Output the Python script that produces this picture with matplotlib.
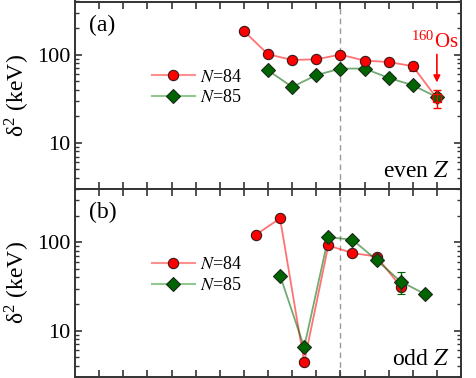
import matplotlib
matplotlib.use("Agg")
import matplotlib.pyplot as plt
from matplotlib.ticker import LogLocator, FixedLocator, NullFormatter, FuncFormatter

plt.rcParams['font.family'] = ['Liberation Serif', 'DejaVu Serif']
plt.rcParams['mathtext.fontset'] = 'stix'

# Panel (a): even Z
z_even_84 = [60, 62, 64, 66, 68, 70, 72, 74]
d_even_84 = [185, 101, 87, 88.5, 100, 85.5, 82.5, 74]
e_even_84 = [0, 0, 0, 0, 0, 0, 0, 8]
z_os = [76]
d_os = [32]
e_os_lo = [7]
e_os_hi = [7.5]
z_even_85 = [62, 64, 66, 68, 70, 72, 74, 76]
d_even_85 = [66.5, 43, 58.5, 69.5, 69.5, 54.5, 45, 33]
e_even_85 = [0, 0, 0, 0, 0, 0, 0, 4]

# Panel (b): odd Z
z_odd_84 = [61, 63, 65, 67, 69, 71, 73]
d_odd_84 = [122, 186, 4.4, 92, 75.5, 69, 31.5]
z_odd_85 = [63, 65, 67, 69, 71, 73, 75]
d_odd_85 = [42, 6.5, 114, 107, 63, 36, 26]
e_odd_85 = [0, 0, 0, 0, 0, 10, 0]

xticks = list(range(48, 79, 2))
red = '#ff0000'
green = '#006400'

fig = plt.figure(figsize=(4.77, 3.78), dpi=100)
ax1 = fig.add_axes([75/477, 1 - 189/378, 386/477, 187.5/378])
ax2 = fig.add_axes([75/477, 1 - 377/378, 386/477, 188/378])

def style(ax):
    ax.set_yscale('log')
    ax.set_xlim(46, 78)
    ax.set_ylim(3, 400)
    ax.xaxis.set_major_locator(FixedLocator(xticks))
    ax.set_xticklabels([])
    ax.yaxis.set_major_locator(LogLocator(base=10, numticks=10))
    ax.yaxis.set_major_formatter(FuncFormatter(lambda v, p: '%d' % round(v)))
    ax.yaxis.set_minor_locator(LogLocator(base=10, subs=range(2, 10), numticks=20))
    ax.yaxis.set_minor_formatter(NullFormatter())
    ax.tick_params(which='both', direction='in', top=True, right=True, color='#333333')
    ax.tick_params(which='major', length=5, width=1.2, labelsize=16, pad=3)
    ax.tick_params(which='minor', length=3, width=1.0)
    for s in ax.spines.values():
        s.set_color('#333333')
        s.set_linewidth(1.4)
    ax.axvline(68, color='#999999', ls='--', lw=1.0, dashes=(4, 3), zorder=1)
    ax.set_ylabel(r'δ$^{\mathregular{2}}$ (keV)', fontsize=17, labelpad=4)

mk = dict(markersize=7.4, markeredgecolor='#3a1a1a', markeredgewidth=0.8)
dk = dict(markersize=6.8, markeredgecolor='#1a2a1a', markeredgewidth=0.8)

# Panel a
style(ax1)
ax1.plot(z_even_84 + z_os, d_even_84 + d_os, '-', color=red, alpha=0.55, lw=1.3, zorder=2)
ax1.errorbar(z_even_84, d_even_84, yerr=e_even_84, fmt='o', color=red, ecolor=red, capsize=3,
             elinewidth=1.0, zorder=4, **mk)
ax1.plot(z_even_85, d_even_85, '-', color=green, alpha=0.55, lw=1.3, zorder=2)
ax1.errorbar(z_even_85, d_even_85, yerr=e_even_85, fmt='D', color=green, ecolor=green, capsize=3,
             elinewidth=1.0, zorder=3, **dk)
ax1.errorbar(z_os, d_os, yerr=[e_os_lo, e_os_hi], fmt='s', mfc='none', mec=red, ecolor=red,
             capsize=3, markersize=6, elinewidth=1.0, zorder=5)
h1, = ax1.plot([], [], '-o', color='#ff9090', markerfacecolor=red, **mk)
h2, = ax1.plot([], [], '-D', color='#90c890', markerfacecolor=green, **dk)

def add_legend(ax):
    ax.legend([h1, h2], [r'$N$=84', r'$N$=85'], loc='upper left', bbox_to_anchor=(0.18, 0.68),
              frameon=False, fontsize=13, handlelength=2.4, labelspacing=0.2, handletextpad=0.3,
              borderaxespad=0)

add_legend(ax1)
ax1.text(0.035, 0.93, '(a)', transform=ax1.transAxes, fontsize=17, va='top', ha='left')
ax1.text(0.97, 0.035, r'even $Z$', transform=ax1.transAxes, fontsize=17, va='bottom', ha='right')
ax1.annotate('', xy=(76, 45), xytext=(76, 108),
             arrowprops=dict(arrowstyle='-|>', color=red, lw=1.2, mutation_scale=10))
ax1.text(75.8, 140, r'$^{\mathregular{160}}$Os', color=red, fontsize=15, ha='center', va='center')

# Panel b
style(ax2)
ax2.plot(z_odd_84, d_odd_84, '-', color=red, alpha=0.55, lw=1.3, zorder=2)
ax2.plot(z_odd_84, d_odd_84, 'o', color=red, zorder=3, **mk)
ax2.plot(z_odd_85, d_odd_85, '-', color=green, alpha=0.55, lw=1.3, zorder=2)
ax2.errorbar(z_odd_85, d_odd_85, yerr=e_odd_85, fmt='D', color=green, ecolor=green, capsize=3,
             elinewidth=1.0, zorder=4, **dk)
add_legend(ax2)
ax2.text(0.035, 0.93, '(b)', transform=ax2.transAxes, fontsize=17, va='top', ha='left')
ax2.text(0.97, 0.035, r'odd $Z$', transform=ax2.transAxes, fontsize=17, va='bottom', ha='right')

fig.savefig('out.png', dpi=100)
